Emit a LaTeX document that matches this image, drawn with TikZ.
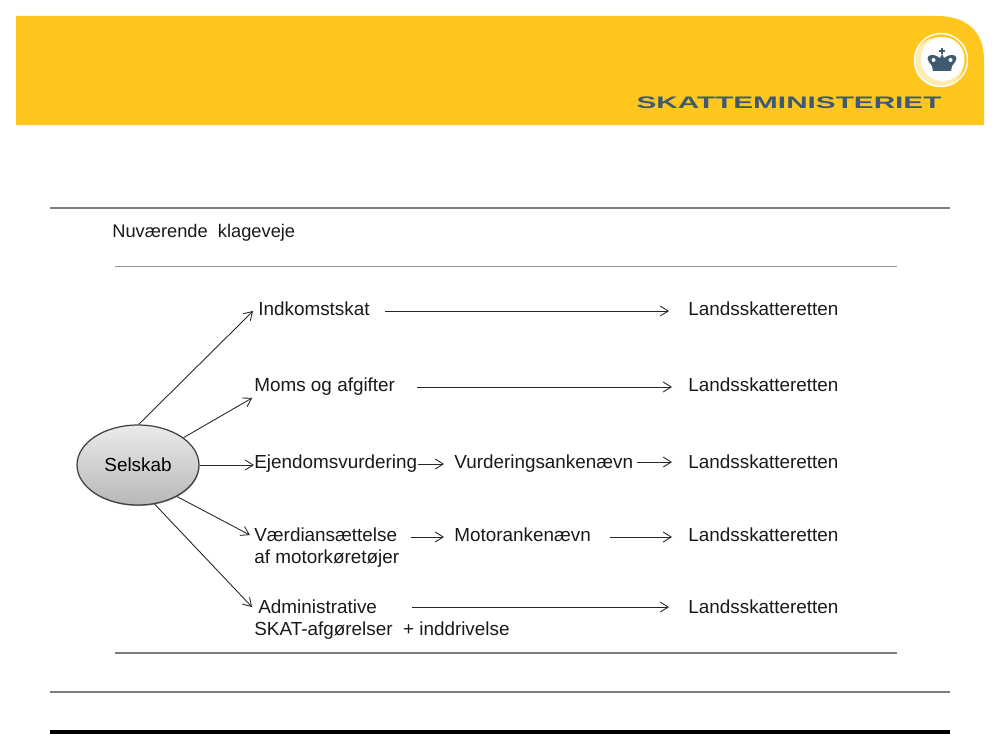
\documentclass[tikz,border=0pt]{standalone}
\usepackage{fontspec}
\setmainfont{Liberation Sans}
\usepackage{xcolor}
\usetikzlibrary{arrows.meta,positioning,calc,shapes.geometric}
\definecolor{headeryellow}{RGB}{255,198,30}
\definecolor{slateblue}{RGB}{62,90,112}
\definecolor{rulegray}{RGB}{125,125,125}
\definecolor{palecream}{RGB}{255,235,175}
\tikzset{
  lbl/.style={anchor=west, inner sep=0pt, font=\fontsize{10.75}{12}\selectfont, text height=8pt, text depth=2.7pt, text=black!90},
  conn/.style={-{Straight Barb[length=1.6mm,width=2mm]}, line width=0.5pt, draw=black!85}
}

\begin{document}
\begin{tikzpicture}[x=0.02cm, y=-0.02cm]
\useasboundingbox (0,0) rectangle (1000,750);

% yellow header band
\fill[headeryellow] (16,16) -- (937,16) .. controls (965,16) and (984,30) .. (984,60) -- (984,125) -- (16,125) -- cycle;

% logo ring and crown
\fill[palecream] (939,62) circle (25);
\fill[white] (942.5,59) circle (22);
\draw[white, line width=0.8pt] (941,60) circle (26.5);
\fill[slateblue] (941,48) rectangle (943,54);
\fill[slateblue] (939,50) rectangle (945,52);
\fill[slateblue] (933,71) -- (951,71) -- (952,66) -- (955,62) .. controls (958,58) and (956,55) .. (952,55)
    .. controls (948,55) and (946,57) .. (944,58) -- (942,54) -- (940,58)
    .. controls (938,57) and (936,55) .. (932,55) .. controls (928,55) and (926,58) .. (929,62) -- (932,66) -- cycle;
\fill[white] (933.5,60) circle (2);
\fill[white] (950.5,60) circle (2);
\node[font=\bfseries\fontsize{9.5}{10}\selectfont, text=slateblue, inner sep=0pt, xscale=1.78] (brand) at (789,103) {SKATTEMINISTERIET};

% horizontal rules
\draw[rulegray, line width=0.8pt] (50,208) -- (950,208);
\draw[rulegray!80, line width=0.5pt] (115,266.5) -- (897,266.5);
\draw[rulegray, line width=0.7pt] (115,653) -- (897,653);
\draw[rulegray, line width=0.8pt] (50,692) -- (950,692);
\draw[black, line width=2.4pt] (50,732) -- (950,732);

% heading
\node[lbl, font=\fontsize{10.4}{12}\selectfont] (title) at (112,233) {Nuværende\ \ klageveje};

% company ellipse
\fill[black!35] (138.5,466) ellipse (61 and 40);
\node[ellipse, minimum width=2.44cm, minimum height=1.6cm, inner sep=0pt, draw=black!75, line width=0.7pt,
    top color=white!92!black, bottom color=black!28, font=\fontsize{10.75}{12}\selectfont] (sel) at (138,465) {Selskab};

% first column
\node[lbl] (indk) at (258,311) {Indkomstskat};
\node[lbl] (moms) at (254,387) {Moms og afgifter};
\node[lbl] (ejen) at (254,464) {Ejendomsvurdering};
\node[lbl] (vaerd) at (254,537) {Værdiansættelse};
\node[lbl] (motor) at (254,559) {af motorkøretøjer};
\node[lbl] (admi) at (258,609) {Administrative};
\node[lbl] (skat) at (254,631) {SKAT-afgørelser\ \ + inddrivelse};

% middle column
\node[lbl] (vurd) at (454,464) {Vurderingsankenævn};
\node[lbl] (mank) at (454,537) {Motorankenævn};

% last column
\node[lbl] (lska) at (688,311) {Landsskatteretten};
\node[lbl] (lskb) at (688,387) {Landsskatteretten};
\node[lbl] (lskc) at (688,464) {Landsskatteretten};
\node[lbl] (lskd) at (688,537) {Landsskatteretten};
\node[lbl] (lske) at (688,609) {Landsskatteretten};

% arrows out of the ellipse
\draw[conn] (sel.89) -- ([xshift=-2.8pt]indk.west);
\draw[conn] (sel.31) -- ([xshift=-1pt,yshift=-6.2pt]moms.west);
\draw[conn] (sel.0) -- (sel.0 -| ejen.west);
\draw[conn] (sel.-39) -- ([xshift=-2.3pt,yshift=1.1pt]vaerd.west);
\draw[conn] (sel.-67) -- ([xshift=-3.4pt,yshift=1.1pt]admi.west);

% arrows along the rows
\draw[conn, shorten <=15*0.02cm, shorten >=19*0.02cm] (indk.east) -- (lska.west);
\draw[conn, shorten <=22*0.02cm, shorten >=16*0.02cm] (moms.east) -- (lskb.west);
\draw[conn, shorten <=1*0.02cm, shorten >=10*0.02cm] (ejen.east) -- (vurd.west);
\draw[conn, shorten <=3*0.02cm, shorten >=16*0.02cm] ([yshift=1.1pt]vurd.east) -- ([yshift=1.1pt]lskc.west);
\draw[conn, shorten <=14*0.02cm, shorten >=10*0.02cm] (vaerd.east) -- (mank.west);
\draw[conn, shorten <=19*0.02cm, shorten >=16*0.02cm] (mank.east) -- (lskd.west);
\draw[conn, shorten <=35*0.02cm, shorten >=19*0.02cm] ([yshift=1.1pt]admi.east) -- ([yshift=1.1pt]lske.west);
\end{tikzpicture}
\end{document}
